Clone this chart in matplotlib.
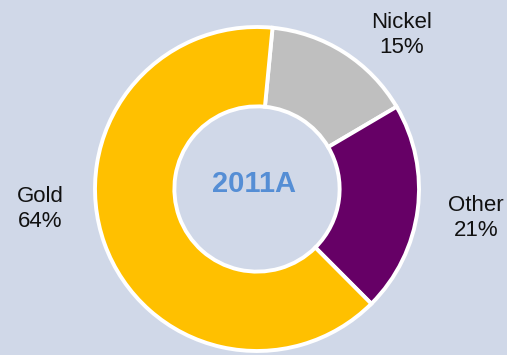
import matplotlib.pyplot as plt

# Revenue mix by metal
metais = ['Nickel', 'Other', 'Gold']
percentuais = [15, 21, 64]
cores = ['#BFBFBF', '#660066', '#FFC000']
ano = '2011A'

fundo = '#D0D8E8'

plt.rcParams['font.family'] = ['Liberation Sans', 'DejaVu Sans']

# pixel -> unidades do grafico (raio externo = 162 px, centro em 257,189)
R_PX = 162.0
CX, CY = 257.0, 189.0
W, H = 507, 355


def px(x, y):
    return (x - CX) / R_PX, (CY - y) / R_PX


fig = plt.figure(figsize=(W / 100, H / 100), dpi=100, facecolor=fundo)
ax = fig.add_axes([0, 0, 1, 1])
ax.set_facecolor(fundo)

ax.pie(percentuais, colors=cores, startangle=84.5, counterclock=False,
       radius=1.0,
       wedgeprops=dict(width=0.49, edgecolor='white', linewidth=2.8))

# posicoes dos rotulos (em pixels)
pos_rotulos = {'Nickel': (402, 35), 'Other': (476, 218), 'Gold': (40, 209)}
for nome, p in zip(metais, percentuais):
    x, y = px(*pos_rotulos[nome])
    ax.text(x, y, f'{nome}\n{p}%', ha='center', va='center',
            fontsize=16, color='#111111', linespacing=1.3)

x, y = px(254, 184)
ax.text(x, y, ano, ha='center', va='center', fontsize=21,
        fontweight='bold', color='#558ED5')

x0, y0 = px(0, H)
x1, y1 = px(W, 0)
ax.set_xlim(x0, x1)
ax.set_ylim(y0, y1)
ax.set_aspect('auto')
ax.axis('off')

fig.savefig('out.png', dpi=100, facecolor=fundo)
